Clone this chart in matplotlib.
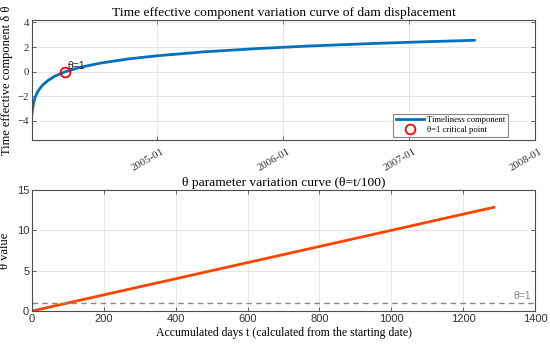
import numpy as np
import matplotlib.pyplot as plt
import matplotlib.dates as mdates
import matplotlib.transforms as mtransforms
from datetime import datetime, timedelta

# data
start_date = datetime(2004, 1, 1)
comp_days = [3, 5, 8, 12, 18, 25, 35, 50, 70, 100, 140, 200, 280, 365, 500, 650, 800, 1000, 1150, 1285]
comp_vals = [-3.4, -2.95, -2.5, -2.1, -1.7, -1.4, -1.05, -0.7, -0.35, 0.0, 0.34, 0.69, 1.03, 1.29,
             1.61, 1.87, 2.08, 2.30, 2.44, 2.55]
crit_day = 100
crit_val = 0.0
theta_days = [0, 1285]
theta_vals = [0.0, 12.85]
theta_crit = 1.0

serif = 'Liberation Serif'
sans = 'Liberation Sans'
blue = '#0072BD'
orange = '#FF4500'
grid_c = '#e3e3e3'
spine_c = '#4d4d4d'

fig = plt.figure(figsize=(5.5, 3.45), dpi=100)
ax1 = fig.add_axes([32/550, 1-140/345, 503/550, 120/345])
ax2 = fig.add_axes([32/550, 1-311/345, 503/550, 121/345])

def style(ax):
    ax.grid(True, color=grid_c, linewidth=0.6)
    ax.set_axisbelow(True)
    for s in ax.spines.values():
        s.set_color(spine_c)
        s.set_linewidth(0.8)
    ax.tick_params(direction='in', top=True, right=True, length=3, width=0.6, color=spine_c, pad=2)

# top: time effective component
dates = [start_date + timedelta(days=d) for d in comp_days]
ax1.plot(dates, comp_vals, color=blue, linewidth=2, label='Timeliness component')
crit_date = start_date + timedelta(days=crit_day)
ax1.plot([crit_date], [crit_val], 'o', mfc='none', mec='red', ms=7, mew=1.3, label='θ=1 critical point')
ax1.text(crit_date + timedelta(days=5), crit_val + 0.25, 'θ=1', fontsize=7.5, family=sans, color='#222222')
ax1.set_xlim(dates[0], datetime(2008, 1, 1))
ax1.set_ylim(-5.55, 4.2)
ax1.set_yticks([-4, -2, 0, 2, 4])
ax1.xaxis.set_major_locator(mdates.YearLocator())
ax1.xaxis.set_major_formatter(mdates.DateFormatter('%Y-%m'))
style(ax1)
shift = mtransforms.ScaledTranslation(4/100, -4/100, fig.dpi_scale_trans)
for lab in ax1.get_xticklabels():
    lab.set_rotation(30)
    lab.set_ha('right')
    lab.set_rotation_mode('anchor')
    lab.set_transform(lab.get_transform() + shift)
for lab in ax1.get_xticklabels() + ax1.get_yticklabels():
    lab.set_family(serif)
    lab.set_fontsize(7.8)
    lab.set_color('#333333')
ax1.set_title('Time effective component variation curve of dam displacement',
              family=serif, fontsize=9.7, pad=3)
ax1.set_ylabel('Time effective component δ θ', family=serif, fontsize=9, labelpad=3)
leg = ax1.legend(loc='lower right', bbox_to_anchor=(0.946, 0.025), prop={'family': serif, 'size': 6.2},
                 fancybox=False, edgecolor='#888888', framealpha=1, borderaxespad=0,
                 handlelength=3.2, labelspacing=0.25, borderpad=0.3, handletextpad=0.4)
leg.get_frame().set_linewidth(0.8)

# bottom: theta parameter
ax2.plot(theta_days, theta_vals, color=orange, linewidth=2)
ax2.axhline(theta_crit, color='#888888', linestyle=(0, (4, 3)), linewidth=1)
ax2.text(1390, theta_crit + 0.45, 'θ=1', fontsize=7.5, family=sans, color='#888888', ha='right')
ax2.set_xlim(0, 1400)
ax2.set_ylim(0, 15)
ax2.set_xticks(np.arange(0, 1401, 200))
ax2.set_yticks([0, 5, 10, 15])
style(ax2)
for lab in ax2.get_xticklabels() + ax2.get_yticklabels():
    lab.set_family(sans)
    lab.set_fontsize(8)
    lab.set_color('#333333')
ax2.set_title('θ parameter variation curve (θ=t/100)', family=serif, fontsize=9.7, pad=3)
ax2.set_ylabel('θ value', family=serif, fontsize=9, labelpad=4)
ax2.set_xlabel('Accumulated days t (calculated from the starting date)', family=serif, fontsize=8.5, labelpad=2)

fig.savefig('out.png', dpi=100)
